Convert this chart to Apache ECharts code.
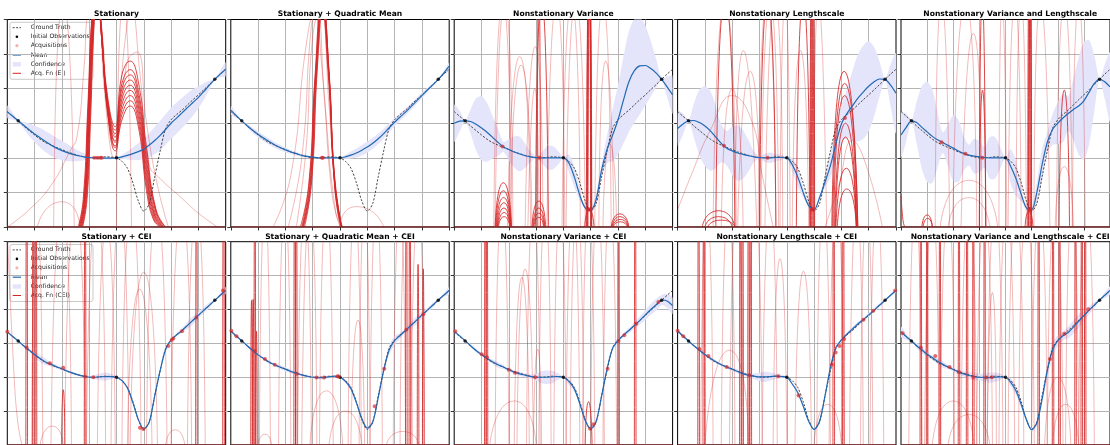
<!DOCTYPE html>
<html><head><meta charset="utf-8">
<script src="https://cdn.jsdelivr.net/npm/echarts@6/dist/echarts.min.js"></script>
<style>html,body{margin:0;padding:0;background:#fff}#c{width:1110px;height:445px}</style>
</head><body><div id="c"></div>
<script>
// ---------------- DATA ----------------
const titles = ['Stationary','Stationary + Quadratic Mean','Nonstationary Variance','Nonstationary Lengthscale','Nonstationary Variance and Lengthscale',
  'Stationary + CEI','Stationary + Quadratic Mean + CEI','Nonstationary Variance + CEI','Nonstationary Lengthscale + CEI','Nonstationary Variance and Lengthscale + CEI'];
const legendLabelsEI = ['Ground Truth','Initial Observations','Acquisitions','Mean','Confidence','Acq. Fn (EI)'];
const legendLabelsCEI = ['Ground Truth','Initial Observations','Acquisitions','Mean','Confidence','Acq. Fn (CEI)'];

const XS = [0,0.2,0.4,0.6,0.8,1,1.2,1.4,1.6,1.8,2,2.2,2.4,2.6,2.8,3,3.2,3.4,3.6,3.8,4,4.2,4.4,4.6,4.8,5,5.2,5.4,5.6,5.8,6,6.2,6.4,6.6,6.8,7,7.2,7.4,7.6,7.8,8];
const groundTruth = [3.34,3.2,3.07,2.92,2.79,2.66,2.54,2.44,2.37,2.3, 2.24,2.17,2.12,2.07,2.03,2.0,2.0,2.01,2.03,2.02, 2.0,1.9,1.7,1.28,0.75,0.46,0.68,1.45,2.2,2.85, 3.1,3.25,3.38,3.53,3.68,3.82,3.97,4.12,4.27,4.42, 4.56];
const obsX = [0.4, 4.0, 7.6];
const obsY = [3.07, 2.0, 4.27];
const baseline = [[0,0],[8,0]];

const mean1 = [3.33,3.2,3.07,2.94,2.81,2.69,2.58,2.47,2.37,2.28, 2.21,2.15,2.1,2.06,2.03,2.01,2.0,1.99,1.99,1.99, 2.0,2.03,2.07,2.12,2.18,2.25,2.37,2.5,2.65,2.82, 3.0,3.15,3.3,3.45,3.6,3.75,3.92,4.1,4.27,4.42, 4.56];
const band1 = [0.18,0.1,0.02,0.1,0.18,0.24,0.28,0.3,0.31,0.3, 0.28,0.25,0.2,0.15,0.1,0.05,0.02,0.02,0.04,0.04, 0.02,0.06,0.12,0.18,0.24,0.3,0.35,0.39,0.42,0.44, 0.45,0.45,0.44,0.42,0.38,0.32,0.24,0.13,0.02,0.1, 0.2];
const mean2 = [3.38,3.22,3.07,2.93,2.8,2.68,2.57,2.47,2.38,2.3, 2.23,2.17,2.12,2.07,2.04,2.02,2.0,2.0,2.0,2.0, 2.0,2.03,2.08,2.14,2.22,2.31,2.42,2.55,2.7,2.87, 3.03,3.18,3.32,3.48,3.64,3.8,3.96,4.11,4.27,4.45, 4.65];
const band2 = [0.12,0.07,0.02,0.05,0.08,0.09,0.09,0.09,0.08,0.08, 0.07,0.06,0.05,0.04,0.03,0.02,0.02,0.02,0.03,0.03, 0.02,0.06,0.1,0.13,0.15,0.16,0.16,0.15,0.14,0.13, 0.12,0.11,0.1,0.1,0.09,0.08,0.07,0.05,0.02,0.06, 0.1];
const mean3 = [3.0,3.06,3.07,3.05,2.97,2.86,2.74,2.6,2.45,2.32, 2.24,2.17,2.11,2.06,2.03,2.01,2.0,2.0,2.0,2.0, 2.0,1.85,1.45,0.92,0.55,0.5,0.8,1.65,2.25,2.65, 3.1,3.67,4.2,4.52,4.66,4.67,4.58,4.45,4.27,4.05, 3.82];
const band3 = [0.53,0.3,0.02,0.35,0.75,0.92,0.85,0.62,0.4,0.15, 0.3,0.45,0.5,0.35,0.15,0.04,0.15,0.32,0.34,0.2, 0.02,0.25,0.3,0.15,0.04,0.05,0.15,0.2,0.4,0.75, 1.0,1.25,1.45,1.5,1.4,1.15,0.8,0.4,0.02,0.3, 0.55];
const mean4 = [2.85,2.98,3.07,3.08,3.02,2.92,2.78,2.6,2.42,2.28, 2.2,2.14,2.1,2.06,2.03,2.01,2.0,2.0,2.01,2.01, 2.0,1.8,1.45,1.0,0.62,0.5,0.85,1.3,1.78,2.42, 2.98,3.28,3.5,3.72,3.9,4.07,4.2,4.28,4.27,4.1, 3.87];
const band4 = [0.5,0.3,0.02,0.5,0.95,1.15,1.15,0.9,0.55,0.5, 0.7,0.8,0.7,0.45,0.15,0.05,0.12,0.15,0.1,0.08, 0.02,0.2,0.28,0.15,0.05,0.04,0.08,0.15,0.35,0.5, 0.55,0.7,1.0,1.25,1.35,1.3,1.0,0.5,0.02,0.6, 1.15];
const mean5 = [2.66,2.88,3.07,3.02,2.88,2.75,2.62,2.52,2.44,2.36, 2.28,2.2,2.13,2.08,2.05,2.03,2.01,2.0,2.0,2.0, 2.0,1.75,1.4,0.95,0.55,0.5,1.0,1.8,2.45,2.82, 3.0,3.15,3.28,3.4,3.5,3.65,3.9,4.15,4.27,4.2, 4.05];
const band5 = [0.65,0.4,0.02,0.6,1.2,1.45,1.35,0.8,0.3,0.6, 0.95,0.9,0.5,0.3,0.5,0.45,0.3,0.6,0.6,0.3, 0.02,0.5,0.5,0.2,0.05,0.05,0.3,0.45,0.3,0.45, 0.6,0.7,0.5,0.9,1.4,1.7,1.5,0.8,0.02,0.5, 1.0];
const mean6 = [3.34,3.2,3.07,2.93,2.8,2.67,2.55,2.45,2.38,2.31, 2.25,2.18,2.12,2.07,2.03,2.0,2.0,2.01,2.02,2.02, 2.0,1.9,1.68,1.25,0.75,0.47,0.68,1.45,2.2,2.82, 3.1,3.25,3.38,3.53,3.68,3.83,3.98,4.12,4.27,4.42, 4.56];
const band6 = [0.03,0.03,0.02,0.04,0.05,0.08,0.1,0.1,0.06,0.05, 0.05,0.03,0.04,0.03,0.02,0.03,0.06,0.1,0.12,0.08, 0.02,0.03,0.04,0.04,0.04,0.03,0.04,0.05,0.05,0.04, 0.04,0.05,0.07,0.1,0.12,0.1,0.08,0.08,0.02,0.06, 0.1];
const mean7 = [3.37,3.22,3.08,2.93,2.79,2.66,2.55,2.45,2.37,2.3, 2.24,2.17,2.12,2.07,2.03,2.0,1.99,1.99,2.01,2.03, 2.0,1.88,1.66,1.25,0.78,0.5,0.68,1.4,2.2,2.8, 3.08,3.23,3.38,3.53,3.68,3.84,3.98,4.13,4.28,4.42, 4.56];
const band7 = [0.05,0.03,0.02,0.04,0.05,0.04,0.04,0.05,0.04,0.06, 0.06,0.05,0.05,0.04,0.04,0.03,0.04,0.05,0.03,0.02, 0.02,0.05,0.06,0.05,0.04,0.04,0.05,0.06,0.1,0.14, 0.13,0.08,0.06,0.1,0.12,0.1,0.06,0.07,0.02,0.05, 0.1];
const mean8 = [3.36,3.22,3.08,2.93,2.79,2.67,2.56,2.46,2.37,2.3, 2.22,2.15,2.1,2.06,2.02,2.0,2.0,2.0,2.01,2.02, 2.0,1.88,1.65,1.22,0.72,0.48,0.7,1.45,2.25,2.85, 3.08,3.24,3.38,3.53,3.68,3.84,4.0,4.14,4.28,4.25, 4.11];
const band8 = [0.04,0.03,0.02,0.04,0.06,0.05,0.04,0.06,0.08,0.06, 0.04,0.05,0.06,0.05,0.06,0.1,0.18,0.2,0.18,0.1, 0.02,0.1,0.08,0.06,0.04,0.04,0.06,0.08,0.06,0.05, 0.06,0.06,0.08,0.1,0.12,0.14,0.16,0.18,0.15,0.2, 0.25];
const mean9 = [3.37,3.22,3.07,2.93,2.8,2.67,2.56,2.46,2.37,2.3, 2.24,2.17,2.1,2.06,2.03,2.01,2.01,2.02,2.03,2.02, 2.0,1.8,1.55,1.15,0.7,0.46,0.7,1.45,2.3,2.88, 3.1,3.27,3.42,3.57,3.7,3.84,3.98,4.13,4.27,4.42, 4.56];
const band9 = [0.04,0.03,0.02,0.03,0.04,0.05,0.05,0.04,0.04,0.05, 0.05,0.06,0.06,0.05,0.08,0.12,0.15,0.12,0.08,0.05, 0.02,0.04,0.05,0.04,0.03,0.03,0.04,0.05,0.05,0.04, 0.04,0.05,0.06,0.06,0.05,0.05,0.05,0.05,0.02,0.04, 0.06];
const mean10 = [3.34,3.2,3.07,2.93,2.81,2.68,2.58,2.47,2.38,2.3, 2.23,2.15,2.1,2.05,2.02,2.0,1.99,1.99,2.0,2.01, 2.0,1.85,1.6,1.2,0.75,0.45,0.65,1.35,2.2,2.8, 3.08,3.22,3.32,3.48,3.65,3.82,3.98,4.13,4.28,4.42, 4.56];
const band10 = [0.15,0.1,0.02,0.08,0.1,0.08,0.06,0.08,0.1,0.06, 0.06,0.07,0.08,0.1,0.12,0.1,0.12,0.15,0.14,0.1, 0.02,0.12,0.12,0.08,0.05,0.05,0.08,0.12,0.2,0.22, 0.15,0.12,0.18,0.2,0.2,0.15,0.12,0.1,0.02,0.08, 0.12];

const acq1 = [[3.19,2.0],[3.3,2.0],[3.4,2.0],[3.46,2.0]];
const acq2 = [[3.34,2.0],[3.37,2.0]];
const acq3 = [[1.77,2.33],[3.12,2.0],[4.88,0.52],[4.95,0.5],[5.0,0.52]];
const acq4 = [[1.7,2.35],[3.3,2.0],[4.92,0.5],[4.96,0.52],[6.13,3.15]];
const acq5 = [[1.55,2.45],[2.47,2.12],[3.11,2.0],[4.91,0.5],[4.96,0.52]];
const acq6 = [[0.0,3.34],[0.71,2.87],[1.56,2.41],[2.05,2.28],[2.85,2.02],[3.15,2.0],[4.86,0.51],[4.98,0.47],[5.9,2.92],[6.02,3.1],[6.08,3.14],[6.4,3.36],[6.93,3.76],[7.9,4.56]];
const acq7 = [[0.02,3.37],[0.21,3.21],[0.88,2.78],[1.25,2.54],[1.61,2.37],[2.41,2.1],[3.14,1.99],[3.42,1.99],[3.91,2.03],[3.95,2.02],[5.27,1.14],[5.62,2.25],[6.43,3.4],[7.05,3.86]];
const acq8 = [[0.04,3.36],[1.01,2.68],[1.2,2.59],[2.0,2.22],[2.23,2.13],[2.97,2.0],[4.98,0.48],[5.1,0.61],[5.62,2.25],[6.02,3.07],[6.23,3.24],[6.67,3.58],[7.48,4.22]];
const acq9 = [[0.0,3.37],[0.21,3.21],[0.8,2.83],[1.13,2.63],[1.8,2.3],[2.63,2.06],[3.69,2.03],[4.43,1.46],[5.65,2.37],[5.79,2.73],[5.93,2.92],[6.1,3.13],[6.81,3.7],[7.17,3.96],[7.97,4.56]];
const acq10 = [[0.06,3.3],[0.76,2.87],[1.31,2.63],[1.86,2.3],[2.22,2.15],[2.77,2.0],[3.26,1.99],[3.48,2.0],[5.7,2.54],[6.25,3.28],[7.17,4.01]];

// acquisition-function curves (strong = late iterations, faint = early iterations)
const fnStrong1 = [
 [[2.6,0],[2.78,0.8],[2.95,3.5],[3.1,6.1],[3.25,7],[3.42,6],[3.65,3.9],[3.95,2.9],[4.2,4.4],[4.5,4.8],[4.8,4.2],[5.1,2.3],[5.45,0.5],[5.8,0]],
 [[2.62,0],[2.8,0.8],[2.96,3.4],[3.1,6.0],[3.25,7],[3.42,5.9],[3.65,3.8],[3.95,2.8],[4.2,4.15],[4.5,4.55],[4.8,3.95],[5.1,2.1],[5.45,0.45],[5.78,0]],
 [[2.64,0],[2.82,0.8],[2.97,3.4],[3.12,6.0],[3.27,7],[3.44,5.8],[3.66,3.7],[3.95,2.7],[4.2,4.0],[4.5,4.4],[4.8,3.8],[5.1,1.95],[5.45,0.4],[5.75,0]],
 [[2.66,0],[2.83,0.8],[2.98,3.3],[3.12,5.9],[3.27,7],[3.44,5.7],[3.66,3.6],[3.95,2.6],[4.2,3.85],[4.5,4.25],[4.8,3.65],[5.1,1.8],[5.42,0.38],[5.72,0]],
 [[2.68,0],[2.85,0.8],[3.0,3.3],[3.14,5.9],[3.28,7],[3.45,5.6],[3.67,3.5],[3.95,2.5],[4.2,3.7],[4.5,4.1],[4.8,3.5],[5.1,1.65],[5.4,0.35],[5.7,0]],
 [[2.7,0],[2.86,0.8],[3.0,3.2],[3.14,5.8],[3.28,7],[3.45,5.5],[3.68,3.4],[3.95,2.45],[4.2,3.55],[4.5,3.95],[4.8,3.35],[5.1,1.5],[5.4,0.3],[5.68,0]],
 [[2.72,0],[2.88,0.8],[3.02,3.2],[3.15,5.8],[3.3,7],[3.46,5.4],[3.68,3.3],[3.95,2.35],[4.2,3.4],[4.5,3.8],[4.8,3.2],[5.1,1.35],[5.38,0.28],[5.65,0]],
 [[2.74,0],[2.9,0.8],[3.03,3.1],[3.16,5.7],[3.3,7],[3.47,5.3],[3.7,3.2],[3.95,2.3],[4.2,3.25],[4.5,3.65],[4.8,3.05],[5.1,1.2],[5.36,0.25],[5.62,0]],
 [[2.76,0],[2.92,0.8],[3.05,3.1],[3.17,5.7],[3.31,7],[3.48,5.2],[3.7,3.1],[3.95,2.2],[4.2,3.1],[4.5,3.5],[4.8,2.9],[5.1,1.05],[5.35,0.22],[5.6,0]]
];
const fnFaint1 = [
 [[0,0],[0.8,0.5],[1.6,1.2],[2.3,2.2],[2.55,2.6],[2.8,4.5],[3.0,6.5],[3.3,6.8],[3.55,4.0],[3.9,2.0],[4.3,5.3],[4.55,6.3],[4.85,4.5],[5.2,1.8],[5.6,1.4],[6.3,0.9],[7.0,0.4],[7.7,0]],
 [[1.1,0],[2.0,0.73],[2.66,0]],
 [[1.7,0],[2.05,6.5],[2.45,0]],
 [[2.7,0],[2.9,1.5],[3.05,5],[3.2,7],[3.45,5.8],[3.7,3.6],[4.0,2.6],[4.4,4.8],[4.75,5.06],[5.1,3.0],[5.5,1.2],[5.9,0]],
 [[4.0,0],[4.25,6.5],[4.55,0]]
];
const fnStrong2 = [
 [[2.62,0],[2.9,1.2],[3.12,4.5],[3.36,6.5],[3.6,4.5],[3.82,1.2],[4.08,0]],
 [[2.66,0],[2.93,1.2],[3.15,4.5],[3.37,6.5],[3.6,4.3],[3.82,1.1],[4.05,0]],
 [[2.7,0],[2.96,1.3],[3.17,4.6],[3.38,6.5],[3.6,4.4],[3.8,1.2],[4.02,0]],
 [[2.6,0],[2.88,1.3],[3.1,4.4],[3.34,6.5],[3.58,4.6],[3.8,1.5],[4.06,0]],
 [[2.55,0],[2.85,1.2],[3.08,4.3],[3.32,6.5],[3.56,4.5],[3.79,1.4],[4.05,0]],
 [[2.64,0],[2.91,1.25],[3.13,4.5],[3.35,6.5],[3.59,4.4],[3.81,1.3],[4.06,0]]
];
const fnFaint2 = [
 [[1.55,0],[2.2,1.5],[2.75,5.2],[3.05,6.2],[3.35,4.5],[3.7,1.0],[4.0,0]],
 [[2.1,0],[2.6,2.0],[2.95,5.8],[3.15,6.3],[3.45,3.5],[3.85,0.4],[4.1,0]],
 [[2.4,0],[2.75,2.2],[3.0,5.5],[3.3,6.4],[3.6,3.5],[3.9,0.5],[4.1,0]],
 [[4.0,0],[4.6,0.59],[5.6,0]]
];
const fnStrong3 = [
 [[4.86,0],[4.93,7.5],[5.0,0]],[[4.88,0],[4.95,7.5],[5.02,0]],[[4.9,0],[4.97,7.5],[5.04,0]],[[4.84,0],[4.94,7.5],[5.03,0]],
 [[3.04,0],[3.1,7.5],[3.16,0]],[[2.98,0],[3.2,6.6],[3.45,0]],
 [[1.5,0],[1.8,1.28],[2.1,0]],[[1.52,0],[1.8,1.05],[2.08,0]],[[1.54,0],[1.81,0.85],[2.08,0]],[[1.56,0],[1.82,0.7],[2.06,0]],
 [[1.58,0],[1.82,0.55],[2.05,0]],[[1.6,0],[1.83,0.42],[2.04,0]],[[1.62,0],[1.83,0.3],[2.03,0]],
 [[2.85,0],[3.1,0.75],[3.35,0]],[[2.88,0],[3.1,0.55],[3.32,0]],[[2.9,0],[3.1,0.4],[3.3,0]],[[2.92,0],[3.1,0.28],[3.28,0]],
 [[5.75,0],[6.07,0.38],[6.4,0]],[[5.78,0],[6.07,0.3],[6.38,0]],[[5.8,0],[6.08,0.22],[6.36,0]],[[5.82,0],[6.08,0.15],[6.34,0]],
 [[4.78,0],[4.95,0.5],[5.12,0]]
];
const fnFaint3 = [
 [[1.45,0],[1.78,6.5],[2.1,0]],[[1.5,0],[1.85,6.5],[2.15,0]],[[1.95,0],[2.4,4.93],[2.8,0]],[[2.05,0],[2.45,4.68],[2.85,0]],
 [[2.6,0],[2.97,5.22],[3.25,0]],[[3.4,0],[3.75,6.5],[4.05,0]],[[3.95,0],[4.3,6.5],[4.62,0]],[[4.1,0],[4.45,6.5],[4.8,0]],
 [[5.15,0],[5.45,6.5],[5.75,0]],[[5.3,0],[5.55,4.8],[5.85,0]],[[5.45,0],[5.7,2.4],[5.95,0]],[[2.7,0],[2.95,4.0],[3.1,0]]
];
const fnStrong4 = [
 [[4.85,0],[4.9,7.5],[4.95,0]],[[4.9,0],[4.96,7.5],[5.02,0]],[[4.87,0],[4.93,7.5],[4.99,0]],
 [[5.65,0],[6.1,4.5],[6.6,0]],[[5.68,0],[6.12,4.15],[6.6,0]],[[5.72,0],[6.12,3.8],[6.58,0]],[[5.75,0],[6.15,3.0],[6.55,0]],
 [[5.78,0],[6.15,2.6],[6.55,0]],[[5.8,0],[6.18,1.7],[6.55,0]],[[5.85,0],[6.2,1.1],[6.55,0]],
 [[4.35,0],[4.6,6.6],[4.85,0]],[[3.0,0],[3.3,6.6],[3.6,0]],[[1.4,0],[1.74,6.6],[2.1,0]],
 [[0.9,0],[1.5,0.47],[2.1,0]],[[1.0,0],[1.5,0.3],[2.0,0]],[[1.1,0],[1.6,0.2],[2.1,0]]
];
const fnFaint4 = [
 [[1.3,0],[1.74,6.5],[2.15,0]],[[2.1,0],[2.41,5.1],[2.9,0]],[[2.2,0],[2.66,4.5],[3.02,0]],[[2.95,0],[3.27,6.5],[3.6,0]],
 [[3.05,0],[3.39,6.5],[3.7,0]],[[3.2,0],[3.57,6.5],[3.85,0]],[[3.75,0],[3.94,6.5],[4.12,0]],[[4.2,0],[4.5,5.1],[4.8,0]],
 [[4.98,0],[5.16,6.5],[5.46,0]],[[1.6,0],[2.0,4.0],[2.4,0]],
 [[0,0.5],[0.5,1.5],[1.2,2.8],[2.0,3.8],[2.7,3.1],[3.1,1.5],[3.5,0]],
 [[5.4,0],[5.9,1.2],[6.4,2.5],[6.9,1.8],[7.5,0]]
];
const fnStrong5 = [
 [[4.85,0],[4.9,7.5],[4.95,0]],[[4.88,0],[4.93,7.5],[4.98,0]],[[4.9,0],[4.95,7.5],[5.0,0]],
 [[3.0,0],[3.11,6.6],[3.24,0]],[[3.0,0],[3.12,3.96],[3.25,0]],[[6.05,0],[6.25,3.96],[6.45,0]],
 [[0,0.9],[0.06,0.3],[0.15,0]],[[0.8,0],[1.0,0.35],[1.2,0]],[[0.85,0],[1.02,0.25],[1.2,0]],[[4.75,0],[4.9,0.45],[5.05,0]]
];
const fnFaint5 = [
 [[1.31,0],[1.55,6.5],[1.86,0]],[[1.98,0],[2.47,6.5],[2.9,0]],[[2.3,0],[2.77,5.6],[3.1,0]],[[3.75,0],[3.87,6.5],[4.05,0]],
 [[4.1,0],[4.36,6.5],[4.6,0]],[[4.4,0],[4.6,6.5],[4.8,0]],[[5.09,0],[5.34,6.5],[5.7,0]],[[5.95,0],[6.25,6.5],[6.56,0]],
 [[6.56,0],[6.8,6.5],[7.05,0]],[[1.5,0],[2.6,1.35],[3.7,0]],[[1.8,0],[2.6,0.85],[3.4,0]],[[5.9,0],[6.25,1.75],[6.6,0]]
];
const fnStrong6 = [
 [[0.68,0],[0.71,9],[0.74,0]],[[0.92,0],[0.95,9],[0.98,0]],[[1.02,0],[1.05,9],[1.08,0]],[[2.82,0],[2.85,9],[2.88,0]],
 [[6.9,0],[6.93,9],[6.96,0]],[[7.89,0],[7.92,9],[7.95,0]],[[1.99,0],[2.05,1.63],[2.11,0]]
];
const fnFaint6 = [
 [[0.9,0],[1.08,7],[1.3,0]],[[1.6,0],[2.0,7],[2.35,0]],[[2.1,0],[2.5,7],[2.85,0]],[[2.9,0],[3.27,7],[3.6,0]],
 [[3.3,0],[3.64,6.5],[3.95,0]],[[3.8,0],[4.13,7],[4.45,0]],[[4.2,0],[4.55,7],[4.9,0]],[[4.4,0],[4.85,4.6],[5.3,0]],
 [[4.5,0],[5.0,5.1],[5.5,0]],[[5.1,0],[5.47,7],[5.85,0]],[[6.0,0],[6.39,7],[6.75,0]],[[6.6,0],[6.93,7],[7.25,0]],
 [[1.2,0],[1.65,0.56],[2.05,0]],[[5.8,0],[6.15,0.45],[6.5,0]],[[0,6.5],[0.25,2],[0.55,0]]
];
const fnStrong7 = [
 [[0.73,0],[0.76,4.27],[0.79,0]],[[0.79,0],[0.82,4.3],[0.85,0]],[[0.85,0],[0.88,9],[0.91,0]],[[0.91,0],[0.94,3.36],[0.97,0]],
 [[2.31,0],[2.34,9],[2.37,0]],[[2.37,0],[2.4,9],[2.43,0]],[[6.4,0],[6.43,9],[6.46,0]],[[6.53,0],[6.56,9],[6.59,0]],
 [[6.83,0],[6.86,5.33],[6.89,0]],[[7.02,0],[7.05,5.2],[7.08,0]]
];
const fnFaint7 = [
 [[1.05,0],[1.25,7],[1.45,0]],[[1.75,0],[1.98,7],[2.2,0]],[[2.45,0],[2.71,7],[2.95,0]],[[2.6,0],[2.9,7],[3.15,0]],
 [[3.25,0],[3.5,7],[3.75,0]],[[4.3,0],[4.54,7],[4.78,0]],[[4.4,0],[4.66,3.69],[4.9,0]],[[4.7,0],[4.9,7],[5.1,0]],
 [[5.1,0],[5.33,7],[5.55,0]],[[5.95,0],[6.19,7],[6.4,0]],[[6.2,0],[6.43,7],[6.65,0]],[[6.6,0],[6.86,7],[7.1,0]],
 [[1.0,0],[1.25,0.32],[1.5,0]],[[2.9,0],[3.5,1.6],[4.1,0]],[[3.6,0],[4.2,1.0],[4.8,0]],[[5.7,0],[6.3,0.4],[6.9,0]]
];
const fnStrong8 = [
 [[1.11,0],[1.14,9],[1.17,0]],[[1.17,0],[1.2,9],[1.23,0]],[[5.99,0],[6.02,9],[6.05,0]],[[6.6,0],[6.63,9],[6.66,0]],
 [[4.8,0],[4.92,1.28],[5.05,0]]
];
const fnFaint8 = [
 [[1.5,0],[1.75,7],[2.0,0]],[[2.2,0],[2.48,4.95],[2.75,0]],[[2.3,0],[2.6,5.19],[2.9,0]],[[2.65,0],[2.9,7],[3.15,0]],
 [[3.1,0],[3.33,7],[3.55,0]],[[3.65,0],[3.88,7],[4.1,0]],[[4.1,0],[4.35,7],[4.6,0]],[[4.25,0],[4.5,7],[4.75,0]],
 [[4.7,0],[4.92,7],[5.15,0]],[[5.0,0],[5.25,7],[5.5,0]],[[5.45,0],[5.7,7],[5.95,0]],[[2.9,0],[3.06,2.83],[3.2,0]],
 [[1.3,0],[2.2,1.3],[3.0,0]]
];
const fnStrong9 = [
 [[0.74,0],[0.77,9],[0.8,0]],[[0.93,0],[0.96,9],[0.99,0]],[[2.27,0],[2.3,9],[2.33,0]],[[2.35,0],[2.38,9],[2.41,0]],
 [[2.57,0],[2.6,9],[2.63,0]],[[2.65,0],[2.68,9],[2.71,0]],[[5.69,0],[5.72,9],[5.75,0]],[[6.04,0],[6.07,9],[6.1,0]]
];
const fnFaint9 = [
 [[0.85,0],[1.07,7],[1.3,0]],[[1.6,0],[1.86,7],[2.1,0]],[[1.9,0],[2.17,7],[2.4,0]],[[2.6,0],[2.84,7],[3.1,0]],
 [[3.1,0],[3.39,7],[3.65,0]],[[3.5,0],[3.75,5.5],[4.0,0]],[[4.3,0],[4.61,5.13],[4.9,0]],[[5.1,0],[5.34,7],[5.6,0]],
 [[5.55,0],[5.83,7],[6.1,0]],[[6.3,0],[6.56,7],[6.8,0]],[[6.7,0],[6.93,7],[7.15,0]],[[7.05,0],[7.3,7],[7.55,0]],
 [[1.0,0],[1.9,2.8],[2.6,0]],[[5.0,0],[5.5,1.2],[6.0,0]]
];
const fnStrong10 = [
 [[0.73,0],[0.76,9],[0.79,0]],[[0.97,0],[1.0,9],[1.03,0]],[[1.46,0],[1.49,9],[1.52,0]],[[2.19,0],[2.22,9],[2.25,0]],
 [[2.5,0],[2.53,9],[2.56,0]],[[2.74,0],[2.77,9],[2.8,0]],[[3.17,0],[3.2,9],[3.23,0]],[[5.24,0],[5.27,9],[5.3,0]],
 [[5.79,0],[5.82,9],[5.85,0]],[[6.04,0],[6.07,9],[6.1,0]],[[6.65,0],[6.68,9],[6.71,0]],[[6.89,0],[6.92,9],[6.95,0]],
 [[7.02,0],[7.05,9],[7.08,0]]
];
const fnFaint10 = [
 [[0.3,0],[0.55,7],[0.8,0]],[[0.9,0],[1.2,7],[1.45,0]],[[1.5,0],[1.8,7],[2.05,0]],[[2.3,0],[2.6,7],[2.9,0]],
 [[2.9,0],[3.2,7],[3.5,0]],[[3.3,0],[3.6,7],[3.9,0]],[[3.75,0],[4.05,7],[4.35,0]],[[4.1,0],[4.4,7],[4.7,0]],
 [[4.5,0],[4.8,7],[5.1,0]],[[5.0,0],[5.3,7],[5.6,0]],[[5.6,0],[5.9,7],[6.2,0]],[[6.3,0],[6.55,7],[6.8,0]],
 [[6.8,0],[7.1,7],[7.4,0]],[[1.2,0],[2.0,1.3],[2.8,0]],[[1.8,0],[2.6,0.9],[3.4,0]],[[5.5,0],[6.0,2.0],[6.5,0]],
 [[5.8,0],[6.3,1.2],[6.8,0]],[[3.3,0],[3.5,4.5],[3.65,0]]
];

// ---------------- LAYOUT / STYLE ----------------
const means = [mean1,mean2,mean3,mean4,mean5,mean6,mean7,mean8,mean9,mean10];
const bands = [band1,band2,band3,band4,band5,band6,band7,band8,band9,band10];
const acqs = [acq1,acq2,acq3,acq4,acq5,acq6,acq7,acq8,acq9,acq10];
const strongs = [fnStrong1,fnStrong2,fnStrong3,fnStrong4,fnStrong5,fnStrong6,fnStrong7,fnStrong8,fnStrong9,fnStrong10];
const faints = [fnFaint1,fnFaint2,fnFaint3,fnFaint4,fnFaint5,fnFaint6,fnFaint7,fnFaint8,fnFaint9,fnFaint10];

const LEFTS = [7.3, 230.8, 454.2, 677.6, 901.0];
const TOPS = [19.5, 241.7];
const W = 218.4, H = 207.5;
const FONT = 'DejaVu Sans';
const BLUE = '#2169b3', BAND = '#e4e4fa', RED = '#d62728';
const STRONG = 'rgba(214,39,40,0.85)', FAINT = 'rgba(214,39,40,0.32)';

const grids = [], xAxes = [], yAxes = [], series = [], graphics = [];

function curveSeries(p, pts, color) {
  return {type: 'line', xAxisIndex: p, yAxisIndex: p, data: pts,
    smooth: pts.length <= 3 ? 0.85 : 0.5, symbol: 'none', silent: true, clip: true, z: 2,
    lineStyle: {color: color, width: 1}};
}

for (let p = 0; p < 10; p++) {
  const r = Math.floor(p/5), c = p % 5;
  grids.push({left: LEFTS[c], top: TOPS[r], width: W, height: H, show: true,
    borderColor: '#000', borderWidth: 1, backgroundColor: 'rgba(0,0,0,0)'});
  const axCommon = {
    gridIndex: p, type: 'value', interval: 1,
    axisLine: {show: false},
    axisTick: {show: true, length: 3.5, lineStyle: {color: '#000', width: 0.8}},
    axisLabel: {show: false},
    splitLine: {show: true, showMinLine: false, showMaxLine: false, lineStyle: {color: '#b4b4b4', width: 1}}
  };
  xAxes.push(Object.assign({}, axCommon, {min: 0, max: 8}));
  yAxes.push(Object.assign({}, axCommon, {min: 0, max: 6}));

  const mean = means[p], band = bands[p];
  series.push({
    type: 'custom', xAxisIndex: p, yAxisIndex: p, silent: true, z: 1,
    data: [[0, 0]],
    renderItem: function (params, api) {
      const up = XS.map((x, k) => api.coord([x, mean[k] + band[k]]));
      const lo = XS.map((x, k) => api.coord([x, mean[k] - band[k]])).reverse();
      const cs = params.coordSys;
      return {type: 'group', children: [{type: 'polygon', shape: {points: up.concat(lo), smooth: 0.3},
        style: {fill: BAND, stroke: null}}],
        clipPath: {type: 'rect', shape: {x: cs.x, y: cs.y, width: cs.width, height: cs.height}}};
    }
  });
  faints[p].forEach(pts => series.push(curveSeries(p, pts, FAINT)));
  strongs[p].forEach(pts => series.push(curveSeries(p, pts, STRONG)));
  // zero level shared by all acquisition-function curves
  series.push({type: 'line', xAxisIndex: p, yAxisIndex: p, data: baseline, symbol: 'none', silent: true, clip: true, z: 2,
    lineStyle: {color: '#7d2a2a', width: 1.6}});
  series.push({type: 'line', xAxisIndex: p, yAxisIndex: p, data: XS.map((x, k) => [x, groundTruth[k]]),
    smooth: 0.3, symbol: 'none', silent: true, z: 3, lineStyle: {color: '#333', width: 0.9, type: [2.2, 1.6]}});
  series.push({type: 'line', xAxisIndex: p, yAxisIndex: p, data: XS.map((x, k) => [x, mean[k]]),
    smooth: 0.3, symbol: 'none', silent: true, z: 4, lineStyle: {color: BLUE, width: 1.2}});
  series.push({type: 'scatter', xAxisIndex: p, yAxisIndex: p, data: obsX.map((x, k) => [x, obsY[k]]),
    symbolSize: 3.5, silent: true, z: 5, itemStyle: {color: '#000'}});
  series.push({type: 'scatter', xAxisIndex: p, yAxisIndex: p, data: acqs[p],
    symbolSize: 4, silent: true, z: 5, itemStyle: {color: 'rgba(214,39,40,0.85)'}});

  graphics.push({type: 'text', x: LEFTS[c] + W/2, y: TOPS[r] - 5.1, z: 100,
    style: {text: titles[p], fontSize: 7.6, fontWeight: 'bold', fontFamily: FONT, fill: '#000',
      align: 'center', verticalAlign: 'middle', textAlign: 'center', textVerticalAlign: 'middle'}});
}

[0, 1].forEach(r => {
  const labels = r === 0 ? legendLabelsEI : legendLabelsCEI;
  const gy = TOPS[r] + 2.8, gx = 10;
  const ys = [5.4, 14.4, 23.4, 32.7, 42, 51];
  const ch = [
    {type: 'rect', shape: {x: 0, y: 0, width: 83, height: 57, r: 2},
      style: {fill: 'rgba(255,255,255,0.8)', stroke: '#c4c4c4', lineWidth: 0.9}},
    {type: 'line', shape: {x1: 2.7, y1: ys[0], x2: 11, y2: ys[0]}, style: {stroke: '#333', lineWidth: 0.9, lineDash: [2, 1.4]}},
    {type: 'circle', shape: {cx: 6.9, cy: ys[1], r: 1.3}, style: {fill: '#000'}},
    {type: 'circle', shape: {cx: 6.9, cy: ys[2], r: 1.6}, style: {fill: 'rgba(214,39,40,0.35)'}},
    {type: 'line', shape: {x1: 2.7, y1: ys[3], x2: 11, y2: ys[3]}, style: {stroke: BLUE, lineWidth: 1.2}},
    {type: 'rect', shape: {x: 2.7, y: ys[4] - 2.2, width: 8.3, height: 4.4}, style: {fill: BAND}},
    {type: 'line', shape: {x1: 2.7, y1: ys[5], x2: 11, y2: ys[5]}, style: {stroke: RED, lineWidth: 1}}
  ];
  labels.forEach((t, i) => ch.push({type: 'text', x: 20.7, y: ys[i],
    style: {text: t, fontSize: 6.1, fontFamily: FONT, fill: '#262626', align: 'left', verticalAlign: 'middle',
      textAlign: 'left', textVerticalAlign: 'middle'}}));
  graphics.push({type: 'group', x: gx, y: gy, z: 100, children: ch});
});

const chart = echarts.init(document.getElementById('c'), null, {renderer: 'canvas'});
chart.setOption({
  animation: false,
  backgroundColor: '#fff',
  grid: grids, xAxis: xAxes, yAxis: yAxes, series: series, graphic: graphics
});
</script></body></html>
